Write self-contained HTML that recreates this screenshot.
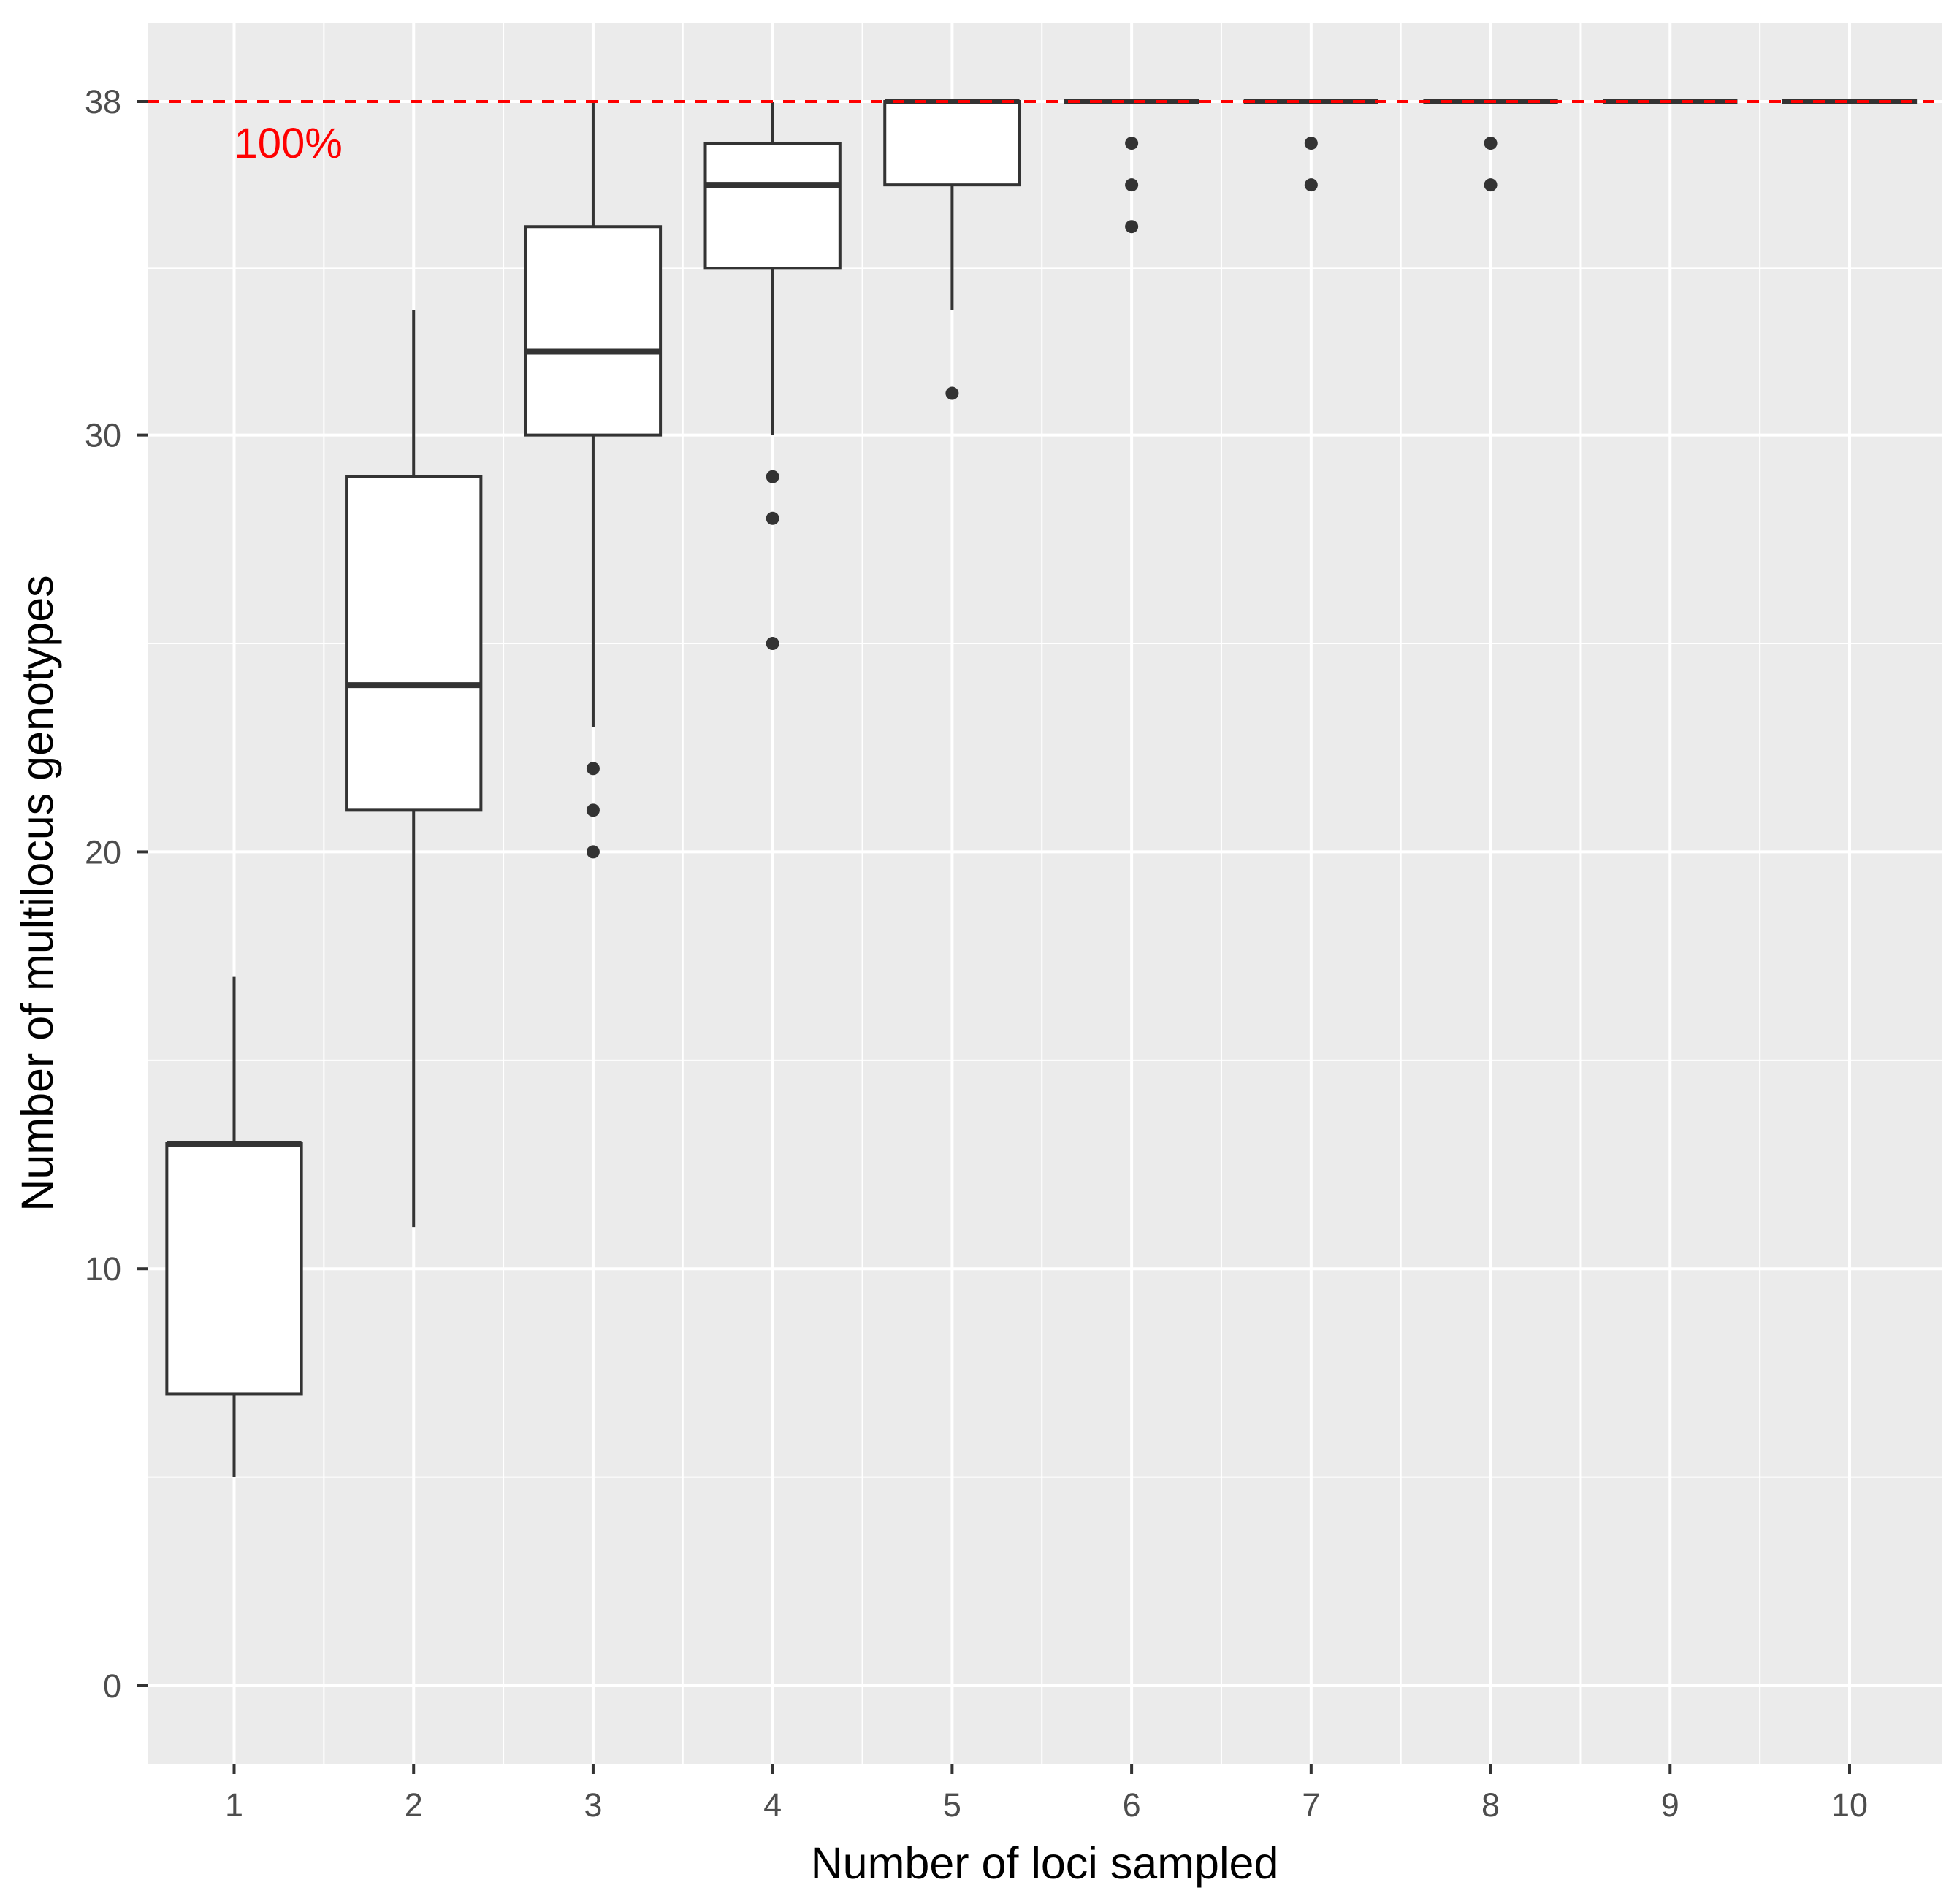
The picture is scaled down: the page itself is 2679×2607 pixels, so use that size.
<!DOCTYPE html>
<html><head><meta charset="utf-8"><style>
html,body{margin:0;padding:0;background:#fff;}
svg{display:block;}
text{font-family:"Liberation Sans",Arial,sans-serif;}
</style></head><body>
<svg id="chart" width="2679" height="2607" xmlns="http://www.w3.org/2000/svg"></svg>
<script>
const categories = [1,2,3,4,5,6,7,8,9,10];
const lowerWhisker = [5,11,23,30,33,38,38,38,38,38];
const q1Values = [7,21,30,34,36,38,38,38,38,38];
const medians = [13,24,32,36,38,38,38,38,38,38];
const q3Values = [13,29,35,37,38,38,38,38,38,38];
const upperWhisker = [17,33,38,38,38,38,38,38,38,38];
const outliers = [[],[],[22,21,20],[29,28,25],[31],[37,36,35],[37,36],[37,36],[],[]];
const yTicks = [0,10,20,30,38];
const yMinor = [5,15,25,34];
const refValue = 38;

const NS = "http://www.w3.org/2000/svg";
const svg = document.getElementById('chart');
const PL=202, PR=2658, PT=31, PB=2415;
const y0px=2308, ppu=(2308-139)/38;
const yS = v => y0px - v*ppu;
const x1=320.5, dx=(2532-320.5)/9;
const xS = v => x1 + (v-1)*dx;
const BW = dx*0.75;

function mk(tag, attrs, parent){
  const el=document.createElementNS(NS,tag);
  for(const k in attrs) el.setAttribute(k,attrs[k]);
  (parent||svg).appendChild(el);
  return el;
}
const panel = mk('rect',{x:PL,y:PT,width:PR-PL,height:PB-PT,fill:'#ebebeb'});



yMinor.forEach(v=>{const l=mk('line',{x1:PL,x2:PR,y1:yS(v),y2:yS(v),stroke:'#fff','stroke-width':2});

});
for(let i=0;i<categories.length-1;i++){const xv=(categories[i]+categories[i+1])/2;
const l=mk('line',{x1:xS(xv),x2:xS(xv),y1:PT,y2:PB,stroke:'#fff','stroke-width':2});

}
yTicks.forEach(v=>{const l=mk('line',{x1:PL,x2:PR,y1:yS(v),y2:yS(v),stroke:'#fff','stroke-width':4});


const t=mk('line',{x1:PL-14,x2:PL,y1:yS(v),y2:yS(v),stroke:'#333','stroke-width':4});


const tx=mk('text',{x:PL-36,y:yS(v)+16,'text-anchor':'end','font-size':45,fill:'#4d4d4d'});tx.textContent=v;

});
categories.forEach(c=>{const l=mk('line',{x1:xS(c),x2:xS(c),y1:PT,y2:PB,stroke:'#fff','stroke-width':4});


const t=mk('line',{x1:xS(c),x2:xS(c),y1:PB,y2:PB+14,stroke:'#333','stroke-width':4});


const tx=mk('text',{x:xS(c),y:PB+72,'text-anchor':'middle','font-size':45,fill:'#4d4d4d'});tx.textContent=c;

});

categories.forEach((c,i)=>{
  const g=mk('g',{});
  
  
  const x=xS(c);
  mk('line',{x1:x,x2:x,y1:yS(upperWhisker[i]),y2:yS(q3Values[i]),stroke:'#333','stroke-width':4},g);
  mk('line',{x1:x,x2:x,y1:yS(q1Values[i]),y2:yS(lowerWhisker[i]),stroke:'#333','stroke-width':4},g);
  mk('rect',{x:x-BW/2,y:yS(q3Values[i]),width:BW,height:Math.max(0,yS(q1Values[i])-yS(q3Values[i])),fill:'#fff',stroke:'#333','stroke-width':4},g);
  mk('line',{x1:x-BW/2,x2:x+BW/2,y1:yS(medians[i]),y2:yS(medians[i]),stroke:'#333','stroke-width':8},g);
  outliers[i].forEach(o=>{const d=mk('circle',{cx:x,cy:yS(o),r:9,fill:'#333'},g);
  
  });
});

const ref=mk('line',{x1:PL,x2:PR,y1:yS(refValue),y2:yS(refValue),stroke:'#ff0000','stroke-width':4,'stroke-dasharray':'16 14'});


const rt=mk('text',{x:xS(1),y:yS(refValue)+77,'text-anchor':'start','font-size':58,fill:'#ff0000'});rt.textContent='100%';



const xt=mk('text',{x:(PL+PR)/2,y:2572,'text-anchor':'middle','font-size':61,fill:'#000'});xt.textContent='Number of loci sampled';


const yt=mk('text',{x:0,y:0,'text-anchor':'middle','font-size':61,fill:'#000',transform:'translate(72,'+((PT+PB)/2)+') rotate(-90)'});yt.textContent='Number of multilocus genotypes';


</script>
</body></html>
